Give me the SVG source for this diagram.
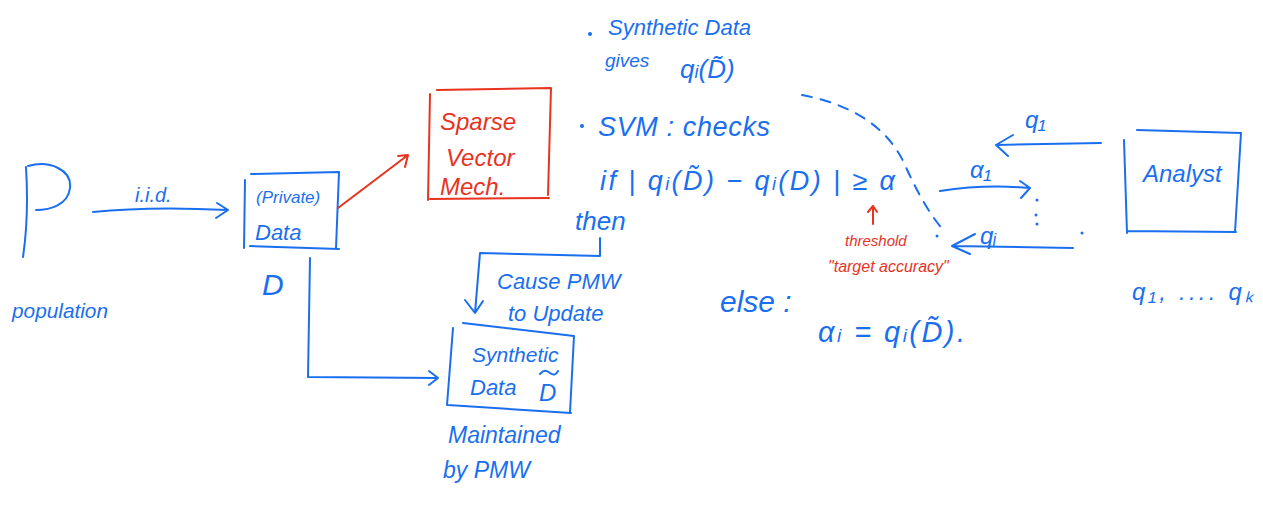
<svg xmlns="http://www.w3.org/2000/svg" width="1263" height="508" viewBox="0 0 1263 508">
<defs>
<style>
.b{fill:#1a6ff0;font-family:"Liberation Sans",Arial,sans-serif;font-style:italic}
.r{fill:#e8331f;font-family:"Liberation Sans",Arial,sans-serif;font-style:italic}
.ls{fill:none;stroke:#1a6ff0;stroke-width:2;stroke-linecap:round;stroke-linejoin:round}
.lr{fill:none;stroke:#e8331f;stroke-width:2;stroke-linecap:round;stroke-linejoin:round}
.dash{stroke-dasharray:10 9}
</style>
</defs>
<rect width="1263" height="508" fill="#fff"/>

<g id="population">
<path class="ls" d="M26 167 C28 200 27 230 23 257 M28 166 C50 160 72 170 70 188 C68 205 50 210 36 210"/>
<text class="b" x="12" y="318" font-size="21" textLength="96" lengthAdjust="spacingAndGlyphs">population</text>
</g>

<g id="private-data">
<path class="ls" d="M245 180 L244 248 M251 174 L339 172 L336 248 M250 246 L339 249"/>
<text class="b" x="256" y="203" font-size="17">(Private)</text>
<text class="b" x="255" y="240" font-size="22">Data</text>
<text class="b" x="262" y="295" font-size="30" font-style="normal">D</text>
</g>

<g id="svm">
<path class="lr" d="M430 94 L428 200 M437 90 L551 88 L548 195 M430 199 L549 198"/>
<text class="r" x="440" y="130" font-size="24">Sparse</text>
<text class="r" x="446" y="166" font-size="24">Vector</text>
<text class="r" x="440" y="195" font-size="24">Mech.</text>
</g>

<g id="synthetic-data">
<path class="ls" d="M453 328 L447 405 M463 323 L574 336 L570 412 M448 405 L571 413"/>
<text class="b" x="472" y="362" font-size="21">Synthetic</text>
<text class="b" x="470" y="395" font-size="22">Data</text>
<text class="b" x="539" y="401" font-size="24" font-style="normal">D</text>
<path class="ls" d="M540 374 Q545 368 550 373 Q555 377 558 371"/>
<text class="b" x="448" y="443" font-size="23">Maintained</text>
<text class="b" x="443" y="478" font-size="23">by  PMW</text>
</g>

<g id="analyst">
<path class="ls" d="M1124 140 L1127 233 M1137 130 L1241 133 L1235 232 M1127 231 L1236 232"/>
<text class="b" x="1143" y="182" font-size="24">Analyst</text>
<text class="b" x="1132" y="300" font-size="24" textLength="121" lengthAdjust="spacing">q₁, ....  qₖ</text>
</g>

<g id="notes">
<circle cx="590" cy="34" r="2" fill="#1a6ff0"/>
<text class="b" x="608" y="35" font-size="22">Synthetic Data</text>
<text class="b" x="605" y="67" font-size="19">gives</text>
<text class="b" x="680" y="78" font-size="26">q<tspan font-size="18">i</tspan>(D̃)</text>
<circle cx="582" cy="126" r="2" fill="#1a6ff0"/>
<text class="b" x="598" y="136" font-size="27" textLength="172" lengthAdjust="spacing">SVM :  checks</text>
<text class="b" x="600" y="190" font-size="27" textLength="295" lengthAdjust="spacing">if  | q<tspan font-size="18">i</tspan>(D̃) − q<tspan font-size="18">i</tspan>(D) | ≥ α</text>
<text class="b" x="575" y="230" font-size="26">then</text>
<text class="b" x="497" y="289" font-size="22">Cause PMW</text>
<text class="b" x="508" y="321" font-size="22">to  Update</text>
<text class="b" x="720" y="312" font-size="30">else :</text>
<text class="b" x="818" y="342" font-size="29" textLength="147" lengthAdjust="spacing">α<tspan font-size="19">i</tspan> = q<tspan font-size="19">i</tspan>(D̃).</text>
<text class="r" x="845" y="246" font-size="15">threshold</text>
<text class="r" x="828" y="272" font-size="16">"target accuracy"</text>
<text class="b" x="1025" y="128" font-size="24">q₁</text>
<text class="b" x="970" y="178" font-size="24">α₁</text>
<text class="b" x="980" y="244" font-size="24">qᵢ</text>
<text class="b" x="135" y="202" font-size="20">i.i.d.</text>
</g>

<g id="connectors">
<path class="ls" d="M93 212 Q150 206 228 210 M217 203 L228 210 L216 218"/>
<path class="ls" d="M310 258 L308 377 L438 378 M429 371 L438 378 L429 385"/>
<path class="lr" d="M338 208 L408 155 M398 156 L408 155 L405 167"/>
<path class="ls" d="M600 238 L600 256 L480 253 L475 313 M465 300 L475 313 L483 301"/>
<path class="lr" d="M873 224 L873 206 M868 212 L873 206 L877 212"/>
<path class="ls" d="M1101 143 L996 145 M1013 135 L996 145 L1008 156"/>
<path class="ls" d="M940 191 Q985 184 1030 188 M1020 181 L1030 188 L1021 198"/>
<path class="ls" d="M1073 248 L952 246 M975 234 L952 246 L970 254"/>
<path class="ls dash" d="M802 95 Q880 110 905 165 Q925 210 945 232"/>
<circle cx="1037" cy="200" r="1.5" fill="#1a6ff0"/>
<circle cx="1036" cy="215" r="1.5" fill="#1a6ff0"/>
<circle cx="1037" cy="224" r="1.5" fill="#1a6ff0"/>
<circle cx="1082" cy="233" r="1.5" fill="#1a6ff0"/>
<circle cx="937" cy="236" r="1.5" fill="#1a6ff0"/>
</g>
</svg>
